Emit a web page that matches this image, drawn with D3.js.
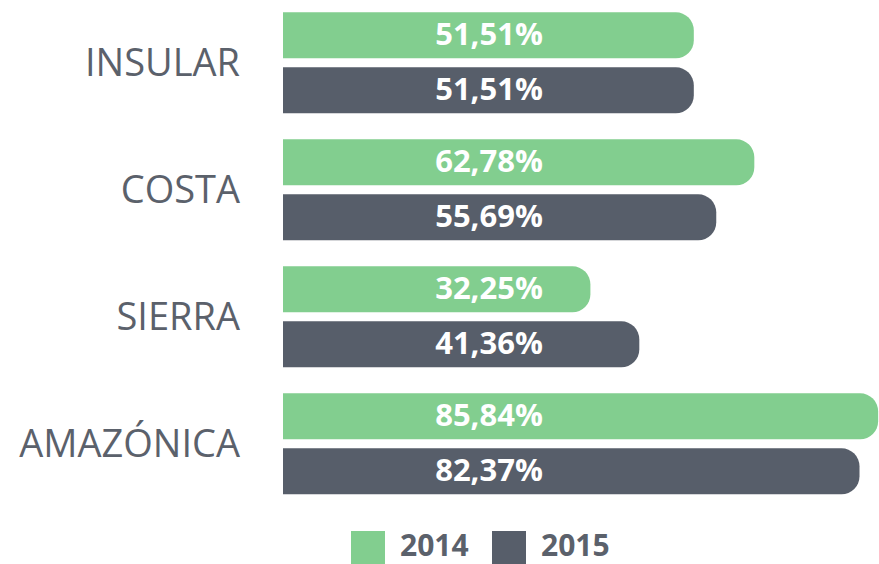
<!DOCTYPE html>
<html>
<head>
<meta charset="utf-8">
<script src="https://cdn.jsdelivr.net/npm/d3@7"></script>
<style>
  body { margin: 0; background: #fff; }
  svg { display: block; }
</style>
</head>
<body>
<div id="chart"></div>
<script>
const regions = ['INSULAR', 'COSTA', 'SIERRA', 'AMAZÓNICA'];
const years = ['2014', '2015'];
const values2014 = [51.51, 62.78, 32.25, 85.84];
const values2015 = [51.51, 55.69, 41.36, 82.37];

const colors = { '2014': '#82ce8f', '2015': '#575e6a' };
const textColor = '#5b616b';

const width = 879;
const height = 564;
const barLeft = 283;
const labelX = 489;
const radius = 18;

const rows = regions.map((r, i) => ({
    region: r,
    bars: [
        { year: '2014', value: values2014[i] },
        { year: '2015', value: values2015[i] }
    ]
}));

const svg = d3.select('#chart')
    .append('svg')
    .attr('width', width)
    .attr('height', height);

// bars in the original start left of zero, so the domain does too
const x = d3.scaleLinear()
    .domain([-25, 86])
    .range([barLeft, width]);

const y = d3.scaleBand()
    .domain(regions)
    .range([-0.7, 507.3])
    .paddingInner(0.205)
    .paddingOuter(0.1025);

const yInner = d3.scaleBand()
    .domain(years)
    .range([0, y.bandwidth()])
    .paddingInner(0.1636);

const fmt = v => d3.format('.2f')(v).replace('.', ',') + '%';

function barPath(x0, x1, y0, h) {
    const r = Math.min(radius, h / 2, x1 - x0);
    return `M${x0},${y0}H${x1 - r}A${r},${r} 0 0 1 ${x1},${y0 + r}` +
        `V${y0 + h - r}A${r},${r} 0 0 1 ${x1 - r},${y0 + h}H${x0}Z`;
}

const group = svg.selectAll('g.row')
    .data(rows)
    .join('g')
    .attr('class', 'row')
    .attr('transform', d => `translate(0,${y(d.region)})`);

group.append('text')
    .attr('x', 240)
    .attr('y', y.bandwidth() / 2)
    .attr('dy', '0.36em')
    .attr('text-anchor', 'end')
    .attr('font-family', 'Open Sans, sans-serif')
    .attr('font-size', 38)
    .attr('fill', textColor)
    .text(d => d.region);

group.selectAll('path')
    .data(d => d.bars)
    .join('path')
    .attr('d', d => barPath(x.range()[0], x(d.value), yInner(d.year), yInner.bandwidth()))
    .attr('fill', d => colors[d.year]);

group.selectAll('text.val')
    .data(d => d.bars)
    .join('text')
    .attr('class', 'val')
    .attr('x', labelX)
    .attr('y', d => yInner(d.year) + yInner.bandwidth() / 2)
    .attr('dy', '0.3em')
    .attr('text-anchor', 'middle')
    .attr('font-family', 'Open Sans, sans-serif')
    .attr('font-weight', 700)
    .attr('font-size', 31)
    .attr('fill', '#fff')
    .text(d => fmt(d.value));

// legend
const legend = svg.append('g')
    .attr('transform', 'translate(351,531)');

const item = legend.selectAll('g')
    .data(years)
    .join('g')
    .attr('transform', (d, i) => `translate(${i * 141},0)`);

item.append('rect')
    .attr('width', 34)
    .attr('height', 34)
    .attr('fill', d => colors[d]);

item.append('text')
    .attr('x', 49)
    .attr('y', 25)
    .attr('font-family', 'Open Sans, sans-serif')
    .attr('font-weight', 700)
    .attr('font-size', 30)
    .attr('fill', textColor)
    .text(d => d);
</script>
</body>
</html>
